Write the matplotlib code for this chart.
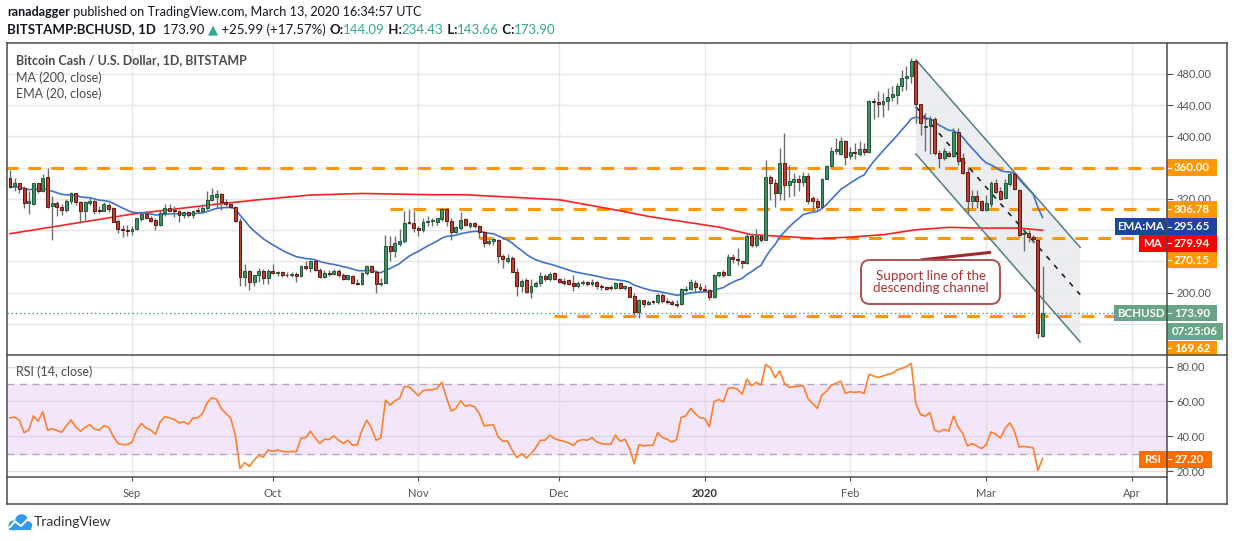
import numpy as np
import pandas as pd
import matplotlib
matplotlib.use("Agg")
import matplotlib.pyplot as plt
from matplotlib.patches import Rectangle, FancyBboxPatch, Polygon, Circle
from matplotlib.lines import Line2D
from matplotlib.transforms import IdentityTransform

# ---- data (BCHUSD daily, Bitstamp) ----
start = "2019-08-06"

opens = [347, 336, 340, 334, 315, 314, 340, 330, 348, 311,
         315, 310, 306, 318, 327, 316, 305, 315, 318, 306,
         305, 312, 308, 292, 282, 280, 279, 282, 294, 301,
         296, 293, 287, 302, 308, 306, 304, 300, 303, 299,
         306, 304, 309, 319, 323, 326, 316, 313, 310, 292,
         220, 228, 214, 222, 228, 219, 228, 225, 226, 223,
         222, 224, 221, 234, 232, 240, 229, 220, 225, 224,
         228, 222, 217, 221, 213, 211, 225, 234, 227, 211,
         213, 260, 253, 262, 266, 290, 289, 283, 280, 291,
         292, 291, 294, 307, 292, 278, 283, 294, 286, 289,
         286, 278, 263, 266, 268, 247, 241, 244, 227, 208,
         216, 201, 209, 212, 221, 217, 225, 218, 215, 216,
         212, 208, 212, 214, 211, 214, 209, 207, 207, 206,
         213, 206, 207, 196, 175, 190, 186, 188.5, 188, 197,
         189, 188, 186, 185, 204, 205, 213, 207, 205, 204,
         195, 223, 226, 222, 246, 243, 241, 238, 272, 261,
         273, 268, 348, 340, 328, 366, 338, 342, 345, 342,
         350, 321, 318, 310, 346, 362, 381, 378, 394, 375,
         380, 378, 384, 380, 446, 444, 441, 446, 451, 453,
         465, 475, 478, 497, 441, 412, 414, 423, 379, 373,
         379, 375, 406, 372, 354, 317, 324, 317, 306, 314,
         340, 330, 321, 339, 352, 332, 275, 277, 271, 268,
         144.09]
highs = [357, 347, 341, 336, 330, 341, 341, 352, 360, 324,
         317, 313, 320, 329, 328, 317, 317, 321, 319, 311,
         316, 315, 310, 294, 287, 287, 285, 296, 303, 304,
         298, 296, 306, 313, 314, 311, 306, 304, 304, 306,
         310, 313, 330, 334, 331, 327, 320, 315, 311, 296,
         237, 229, 223, 232, 230, 230, 237, 228, 228, 226,
         226, 226, 236, 240, 242, 243, 232, 229, 229, 230,
         230, 225, 223, 222, 217, 226, 236, 235, 229, 219,
         274, 272, 272, 281, 305, 307, 304, 286, 296, 298,
         296, 296, 309, 308, 295, 285, 303, 296, 291, 291,
         287, 279, 269, 271, 269, 249, 249, 247, 231, 218,
         219, 217, 215, 226, 224, 226, 226, 219, 219, 217,
         222, 215, 216, 215, 217, 215, 211, 209, 210, 214,
         214, 210, 208, 199, 192, 191, 191, 190, 200, 200,
         193, 190, 190, 206, 209, 217, 216, 212, 210, 205,
         224, 227, 229, 249, 249, 257, 242, 276, 276, 281,
         274, 370, 351, 345, 385, 404, 364, 353, 351, 355,
         353, 324, 321, 347, 364, 387, 398, 399, 395, 387,
         392, 394, 392, 447, 449, 458, 456, 462, 464, 468,
         485, 490, 500, 498, 441, 430, 426, 425, 383, 385,
         382, 411, 411, 379, 360, 331, 331, 319, 325, 343,
         345, 335, 345, 355, 355, 333, 279, 280, 274, 269,
         234.43]
lows = [334, 330, 327, 309, 301, 312, 328, 329, 309, 267,
        298, 300, 303, 314, 312, 289, 293, 312, 301, 302,
        304, 303, 290, 276, 271, 272, 274, 280, 292, 294,
        291, 280, 285, 298, 304, 297, 291, 295, 297, 295,
        302, 302, 306, 317, 308, 306, 311, 308, 291, 208,
        208, 204, 208, 214, 211, 211, 224, 221, 220, 220,
        220, 214, 220, 229, 227, 228, 219, 219, 221, 222,
        220, 216, 216, 211, 210, 210, 223, 226, 199, 208,
        212, 240, 246, 260, 264, 288, 278, 272, 278, 285,
        285, 287, 292, 286, 268, 277, 280, 286, 283, 283,
        270, 258, 261, 261, 238, 232, 238, 226, 196, 201,
        199, 193, 207, 209, 215, 215, 216, 212, 210, 210,
        202, 206, 210, 209, 208, 205, 204, 204, 204, 205,
        205, 204, 194, 171, 168, 182, 184, 186, 186, 187,
        186, 184, 182, 184, 201, 203, 201, 202, 201, 191,
        193, 220, 220, 222, 238, 236, 231, 237, 259, 259,
        265, 267, 319, 310, 319, 319, 323, 324, 330, 336,
        314, 306, 306, 308, 346, 361, 378, 376, 364, 371,
        371, 375, 376, 379, 423, 425, 425, 434, 445, 441,
        458, 459, 468, 417, 402, 381, 377, 376, 360, 370,
        374, 374, 363, 352, 302, 308, 308, 305, 304, 310,
        327, 319, 320, 337, 331, 271, 253, 265, 263, 142,
        143.66]
closes = [335, 340, 333, 315, 318, 340, 330, 347, 310, 315,
          310, 306, 318, 327, 316, 305, 316, 318, 305, 304,
          313, 307, 291, 281, 280, 279, 282, 295, 301, 296,
          292, 287, 302, 308, 305, 304, 299, 303, 299, 305,
          304, 309, 319, 325, 326, 316, 313, 310, 292, 220,
          228, 214, 222, 228, 219, 228, 225, 226, 222, 222,
          224, 221, 234, 232, 240, 229, 220, 225, 224, 228,
          222, 217, 222, 212, 211, 225, 234, 227, 211, 213,
          260, 253, 263, 266, 289, 289, 283, 280, 291, 292,
          292, 295, 307, 292, 278, 284, 293, 287, 289, 286,
          278, 264, 266, 269, 247, 243, 244, 227, 208, 215,
          201, 209, 213, 221, 218, 224, 218, 214, 213, 211,
          208, 213, 214, 211, 214, 209, 207, 205, 206, 213,
          206, 208, 195, 175, 190, 186, 188, 188, 197, 189,
          188, 185, 184, 205, 205, 214, 207, 205, 204, 195,
          223, 226, 222, 246, 243, 242, 238, 272, 261, 273,
          268, 348, 340, 328, 366, 338, 343, 345, 342, 350,
          317, 318, 310, 345, 362, 382, 384, 394, 374, 380,
          379, 384, 380, 446, 444, 441, 446, 451, 455, 465,
          475, 478, 497, 441, 417, 414, 423, 379, 373, 382,
          375, 406, 368, 353, 317, 324, 317, 306, 315, 340,
          329, 320, 340, 352, 333, 274, 277, 271, 269, 147.91,
          173.90]

rsi = [50.6, 51.0, 49.2, 42.1, 43.5, 51.7, 48.7, 54.0, 43.5, 44.4,
       43.3, 42.3, 46.0, 49.4, 45.4, 42.9, 45.0, 46.7, 44.0, 43.5,
       46.0, 45.2, 40.0, 35.8, 35.2, 35.2, 36.7, 43.5, 47.3, 44.8,
       43.5, 41.2, 48.3, 51.2, 50.6, 49.6, 47.7, 48.3, 46.9, 50.6,
       50.6, 53.0, 59.2, 62.1, 61.3, 56.0, 53.0, 50.6, 40.6, 21.5,
       24.8, 22.7, 26.2, 29.0, 28.1, 32.1, 31.3, 32.1, 31.3, 31.0,
       31.3, 31.0, 39.0, 39.2, 42.9, 39.2, 35.8, 38.3, 38.1, 40.2,
       37.7, 35.8, 37.7, 34.8, 35.2, 43.5, 49.2, 44.8, 37.7, 39.0,
       60.8, 57.9, 60.4, 61.7, 68.5, 68.5, 66.0, 63.3, 66.2, 66.7,
       66.7, 67.5, 71.0, 62.1, 54.4, 56.0, 60.4, 57.3, 57.9, 56.9,
       53.0, 46.0, 46.3, 46.7, 39.6, 37.1, 37.3, 31.9, 27.7, 30.0,
       27.5, 30.0, 33.3, 37.7, 37.7, 40.6, 38.7, 37.7, 37.1, 36.2,
       34.8, 37.3, 38.1, 37.7, 39.2, 36.7, 35.8, 35.4, 35.4, 40.6,
       37.1, 38.3, 32.9, 24.2, 35.2, 34.4, 34.8, 34.8, 42.1, 39.2,
       38.3, 36.7, 38.1, 50.8, 51.7, 56.0, 53.0, 50.6, 50.2, 45.4,
       59.8, 61.2, 59.8, 67.5, 67.9, 66.9, 64.2, 72.9, 69.0, 71.0,
       69.4, 81.3, 79.4, 73.7, 77.5, 70.4, 68.1, 68.5, 68.8, 69.0,
       61.7, 58.8, 56.0, 63.7, 66.0, 69.4, 70.4, 71.7, 64.6, 65.6,
       65.2, 65.6, 64.6, 75.6, 74.6, 73.8, 74.6, 75.6, 76.2, 78.1,
       79.0, 80.0, 81.9, 58.8, 52.5, 51.5, 53.7, 43.5, 42.5, 44.0,
       42.9, 51.5, 45.4, 41.5, 34.4, 35.8, 34.4, 32.9, 35.2, 42.5,
       41.2, 39.0, 44.4, 47.7, 42.9, 33.8, 34.2, 33.8, 33.3, 20.4,
       27.2]

# MA(200) read at a few dates (no earlier history to compute it from)
ma200_dates = ["2019-08-06", "2019-09-01", "2019-09-18", "2019-09-28", "2019-10-09",
               "2019-10-20", "2019-11-04", "2019-11-11", "2019-12-01", "2019-12-13",
               "2019-12-20", "2019-12-27", "2020-01-04", "2020-01-11", "2020-01-18",
               "2020-01-25", "2020-02-01", "2020-02-08", "2020-02-15", "2020-02-22",
               "2020-02-29", "2020-03-08", "2020-03-13"]
ma200_vals = [275.5, 300.6, 312.6, 319.0, 325.0, 327.0, 325.4, 325.4, 319.0, 306.0,
              297.7, 291.3, 284.0, 274.2, 272.0, 269.1, 271.2, 274.2, 280.6, 283.6,
              282.7, 282.7, 279.9]

levels = [360.00, 306.78, 270.15, 169.62]
level_from = ["2019-08-05", "2019-10-26", "2019-11-14", "2019-11-30"]

channel_dates = ["2020-02-15", "2020-03-21"]
channel_upper = [498.2, 258.0]
channel_lower = [377.5, 136.9]

month_dates = ["2019-09-01", "2019-10-01", "2019-11-01", "2019-12-01",
               "2020-01-01", "2020-02-01", "2020-03-01", "2020-04-01"]
month_labels = ["Sep", "Oct", "Nov", "Dec", "2020", "Feb", "Mar", "Apr"]

price_ticks = [200, 320, 400, 440, 480]   # the ones not hidden behind tags
ema_label = 295.65
ma_label = 279.94
rsi_label = 27.20
countdown = "07:25:06"

# ---- helpers ----
W, H = 1234, 541
PX = IdentityTransform()


def day(d):
    return (pd.Timestamp(d) - pd.Timestamp(start)).days


plt.rcParams["font.family"] = ["Lato", "DejaVu Sans"]
fig = plt.figure(figsize=(W / 100, H / 100), dpi=100)
fig.patch.set_facecolor("white")

L, R, T, MID, B = 6.7, 1167, 43.3, 355, 477.3
ax = fig.add_axes([L / W, 1 - MID / H, (R - L) / W, (MID - T) / H])
ax2 = fig.add_axes([L / W, 1 - B / H, (R - L) / W, (B - MID) / H], sharex=ax)

idx = np.arange(len(closes))
o = np.array(opens, float)
h = np.array(highs, float)
lo = np.array(lows, float)
c = np.array(closes, float)
ema = pd.Series(c).ewm(span=20, adjust=False).mean()

months = [day(d) for d in month_dates]
grid_c = "#e6e6e6"

# ---- price panel ----
ax.set_xlim(-0.7, 246.5)
ax.set_ylim(120.2, 519.3)
for m in months:
    ax.axvline(m, color=grid_c, lw=1, zorder=0)
for y in range(160, 520, 40):
    ax.axhline(y, color=grid_c, lw=1, zorder=0)

# descending channel
cx = [day(d) for d in channel_dates]
ax.add_patch(Polygon([(cx[0], channel_upper[0]), (cx[1], channel_upper[1]),
                      (cx[1], channel_lower[1]), (cx[0], channel_lower[0])],
                     closed=True, facecolor="#e9ecf0", edgecolor="none", alpha=0.9, zorder=1))
ax.plot(cx, channel_upper, color="#4f7f83", lw=1.1, zorder=4)
ax.plot(cx, channel_lower, color="#4f7f83", lw=1.1, zorder=4)
mid = [(a + b) / 2 for a, b in zip(channel_upper, channel_lower)]
ax.plot(cx, mid, color="#222222", lw=1.2, ls=(0, (3, 4)), zorder=4)

# horizontal levels
for lv, d0 in zip(levels, level_from):
    ax.hlines(lv, day(d0), 246.5, color="#ff9800", lw=2.2, linestyles=(0, (4.2, 3.3)), zorder=2)
ax.axhline(c[-1], color="#4c9f70", lw=1, ls=(0, (1, 2)), zorder=2)

# moving averages
ax.plot([day(d) for d in ma200_dates], ma200_vals, color="#ff2020", lw=1.2, zorder=3)
ax.plot(idx, ema, color="#3f73cc", lw=1.2, zorder=3)

# candles
up = c >= o
ax.vlines(idx, lo, h, color="#6d6d6d", lw=1, zorder=4)
body = np.maximum(np.abs(c - o), 0.8)
ax.bar(idx[up], body[up], bottom=np.minimum(o, c)[up], width=0.62,
       color="#3e9163", edgecolor="#1e5a3a", lw=0.7, zorder=5)
ax.bar(idx[~up], body[~up], bottom=np.minimum(o, c)[~up], width=0.62,
       color="#c23b2b", edgecolor="#5e1a12", lw=0.7, zorder=5)

ax.set_yticks(price_ticks)
ax.set_yticklabels([f"{v:.2f}" for v in price_ticks])
ax.yaxis.tick_right()
ax.tick_params(axis="y", colors="#555555", labelsize=8, length=4, width=0.8, pad=3)
ax.tick_params(axis="x", bottom=False, labelbottom=False)
for s in ax.spines.values():
    s.set_visible(False)

# callout line toward the channel support
ax.plot([day("2020-02-16"), day("2020-03-02")], [241.9, 251.7], color="#9e2b2b", lw=2.2,
        solid_capstyle="butt", zorder=6)

# ---- RSI panel ----
ax2.set_ylim(16.4, 86.7)
ax2.axhspan(30, 70, color="#f3e6fb", zorder=0)
for m in months:
    ax2.axvline(m, color="#dcdcdc", lw=1, zorder=0.5, alpha=0.7)
for y in (20, 40, 60, 80):
    ax2.axhline(y, color="#d8d0de", lw=1, zorder=0.5, alpha=0.8)
for y in (30, 70):
    ax2.axhline(y, color="#b3a6ba", lw=1, ls=(0, (5, 4)), zorder=1)
ax2.plot(idx, rsi, color="#ff7f2a", lw=1.2, zorder=3)
ax2.set_yticks([20, 40, 60, 80])
ax2.set_yticklabels(["20.00", "40.00", "60.00", "80.00"])
ax2.yaxis.tick_right()
ax2.tick_params(axis="y", colors="#555555", labelsize=8, length=4, width=0.8, pad=3)
ax2.set_xticks(months)
ax2.set_xticklabels(month_labels)
ax2.tick_params(axis="x", colors="#555555", labelsize=8, length=3, width=0.8, pad=5)
for lab in ax2.get_xticklabels():
    if lab.get_text() == "2020":
        lab.set_fontweight("bold")
        lab.set_color("#333333")
for s in ax2.spines.values():
    s.set_visible(False)

# ---- frame ----
frame_c = "#4a4a4a"
for xs, ys in [((L, 1226.7), (T, T)), ((L, 1226.7), (504, 504)), ((L, L), (T, 504)),
               ((1226.7, 1226.7), (T, 504)), ((L, 1226.7), (MID, MID)), ((R, R), (T, 504)),
               ((L, R), (B, B))]:
    fig.add_artist(Line2D(xs, [H - y for y in ys], transform=PX, color=frame_c, lw=1.1, zorder=30))


# ---- price-scale tags ----
def tag(x0, x1, yc, text, color, hgt=16.7, fs=8.3):
    fig.add_artist(Rectangle((x0, H - yc - hgt / 2), x1 - x0, hgt, transform=PX,
                             facecolor=color, edgecolor="none", zorder=20))
    fig.text((x0 + x1) / 2, H - yc, text, transform=PX, ha="center", va="center",
             color="white", fontsize=fs, fontweight="bold", zorder=21)


def tick_mark(yc):
    fig.add_artist(Line2D([R, R + 4], [H - yc, H - yc], transform=PX, color="white", lw=0.8, zorder=22))


def ypix(ax_, v):
    return H - ax_.transData.transform((0, v))[1]


orange = "#ff9800"
tag(R, 1217, ypix(ax, levels[0]), f"{levels[0]:.2f}", orange)
tag(R, 1217, ypix(ax, levels[1]), f"{levels[1]:.2f}", orange)
tag(1115, R, 226.7, "EMA:MA", "#1a46a0")
tag(R, 1217, 226.7, f"{ema_label:.2f}", "#1a46a0")
tag(1139, R, 243.3, "MA", "#ff0000")
tag(R, 1217, 243.3, f"{ma_label:.2f}", "#ff0000")
tag(R, 1217, 260.0, f"{levels[2]:.2f}", orange)
tag(1114, R, ypix(ax, c[-1]), "BCHUSD", "#6aa583")
tag(R, 1217, ypix(ax, c[-1]), f"{c[-1]:.2f}", "#6aa583")
tag(R, 1223, 331.5, countdown, "#6aa583")
tag(R, 1217, 348.0, f"{levels[3]:.2f}", orange, hgt=14)
tag(1139, R, 459.3, "RSI", "#ff6d00")
tag(R, 1212, 459.3, f"{rsi_label:.2f}", "#ff6d00")
for yc in (ypix(ax, levels[0]), ypix(ax, levels[1]), 226.7, 243.3, 260.0,
           ypix(ax, c[-1]), 348.0, 459.3):
    tick_mark(yc)

# ---- annotation box ----
fig.add_artist(FancyBboxPatch((861, H - 304), 139, 44, boxstyle="round,pad=0,rounding_size=9",
                              transform=PX, facecolor="white", edgecolor="#b24f4f", lw=1.4, zorder=25))
fig.text(930.5, H - 282, "Support line of the\ndescending channel", transform=PX, ha="center",
         va="center", color="#a83232", fontsize=9.6, linespacing=1.0, zorder=26)

# ---- text ----
renderer = fig.canvas.get_renderer()


def text_run(x, y, parts, fs):
    for s, col, wt in parts:
        t = fig.text(x, H - y, s, transform=PX, ha="left", va="center", color=col,
                     fontsize=fs, fontweight=wt)
        x += t.get_window_extent(renderer).width


dark = "#131722"
teal = "#32a797"
text_run(7, 12.5, [("ranadagger", dark, "bold"),
                   ("\u00a0published on TradingView.com, March 13, 2020 16:34:57 UTC", dark, "normal")], 9.1)
text_run(7, 29.5, [("BITSTAMP:BCHUSD, 1D", dark, "bold"),
                   ("\u00a0\u00a0173.90\u00a0", dark, "normal"),
                   ("\u25b2", teal, "normal"),
                   ("\u00a0+25.99 (+17.57%)\u00a0", dark, "normal"),
                   ("O:", dark, "bold"), ("144.09", teal, "normal"),
                   ("\u00a0H:", dark, "bold"), ("234.43", teal, "normal"),
                   ("\u00a0L:", dark, "bold"), ("143.66", teal, "normal"),
                   ("\u00a0C:", dark, "bold"), ("173.90", teal, "normal")], 9.5)

legend_c = "#4a4a4a"
fig.text(15.5, H - 60.5, "Bitcoin Cash / U.S. Dollar, 1D, BITSTAMP", transform=PX, va="center",
         color=legend_c, fontsize=9, fontweight="bold")
fig.text(15.5, H - 78, "MA (200, close)", transform=PX, va="center", color=legend_c, fontsize=9)
fig.text(15.5, H - 94, "EMA (20, close)", transform=PX, va="center", color=legend_c, fontsize=9)
fig.text(15.5, H - 372, "RSI (14, close)", transform=PX, va="center", color=legend_c, fontsize=9)

# TradingView logo
logo = "#2f9bea"
for (cx_, cy_, r_) in [(13.5, 525.5, 5.0), (21.5, 520.5, 6.3), (28.0, 525.5, 4.2)]:
    fig.add_artist(Circle((cx_, H - cy_), r_, transform=PX, facecolor=logo, edgecolor="none", zorder=5))
fig.add_artist(Rectangle((9, H - 529.8), 22, 5, transform=PX, facecolor=logo, edgecolor="none", zorder=5))
fig.add_artist(Line2D([10, 15, 21, 28], [H - 527, H - 521.5, H - 526, H - 519], transform=PX,
                      color="white", lw=1.4, zorder=6))
fig.text(34, H - 522.5, "TradingView", transform=PX, va="center", color="#333333", fontsize=10)

fig.savefig("out.png", dpi=100, facecolor="white")
